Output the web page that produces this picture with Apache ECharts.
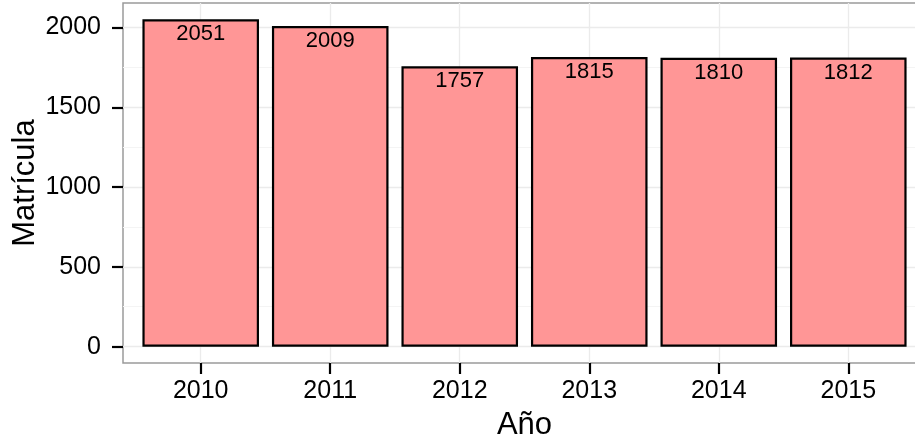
<!DOCTYPE html>
<html>
<head>
<meta charset="utf-8">
<script src="https://cdn.jsdelivr.net/npm/echarts@6/dist/echarts.min.js"></script>
<style>
html,body{margin:0;padding:0;background:#fff;}
#c{width:915px;height:443px;}
</style>
</head>
<body>
<div id="c"></div>
<script>
const years = [2010, 2011, 2012, 2013, 2014, 2015];
const matricula = [2051, 2009, 1757, 1815, 1810, 1812];
const yTicks = [0, 500, 1000, 1500, 2000];
const yMinor = [250, 750, 1250, 1750];

const FONT = "'Liberation Sans', Arial, sans-serif";
const chart = echarts.init(document.getElementById('c'), null, {renderer: 'canvas'});

const gridLines = []
  .concat(yMinor.map(v => ({yAxis: v, lineStyle: {color: '#F4F4F4', width: 1, type: 'solid'}})))
  .concat(yTicks.map(v => ({yAxis: v, lineStyle: {color: '#EBEBEB', width: 1.3, type: 'solid'}})))
  .concat(years.map(v => ({xAxis: v, lineStyle: {color: '#EBEBEB', width: 1.3, type: 'solid'}})));

chart.setOption({
  animation: false,
  backgroundColor: '#ffffff',
  grid: {
    left: 123, top: 3, right: -11, bottom: 80,
    show: true, borderColor: '#9a9a9a', borderWidth: 1.5,
    backgroundColor: 'transparent',
    outerBoundsMode: 'none'
  },
  xAxis: {
    type: 'value',
    min: 2009.4, max: 2015.6,
    name: 'Año', nameLocation: 'middle', nameGap: 47, nameMoveOverlap: false,
    nameTextStyle: {fontFamily: FONT, fontSize: 31, color: '#000'},
    axisLine: {show: false, onZero: false, lineStyle: {color: '#000'}},
    axisTick: {show: true, inside: false, length: 11, customValues: years, lineStyle: {color: '#000', width: 2.2, opacity: 1}},
    axisLabel: {customValues: years, fontFamily: FONT, fontSize: 25, color: '#000', margin: 16,
      formatter: v => String(v)},
    splitLine: {show: false}
  },
  yAxis: {
    type: 'value',
    min: -102.55, max: 2153.55,
    name: 'Matrícula', nameLocation: 'middle', nameGap: 82, nameMoveOverlap: false,
    nameTextStyle: {fontFamily: FONT, fontSize: 31, color: '#000'},
    axisLine: {show: false, onZero: false, lineStyle: {color: '#000'}},
    axisTick: {show: true, inside: false, length: 11, customValues: yTicks, lineStyle: {color: '#000', width: 2.2, opacity: 1}},
    axisLabel: {customValues: yTicks, fontFamily: FONT, fontSize: 25, color: '#000', margin: 22,
      formatter: v => String(v)},
    splitLine: {show: false}
  },
  series: [{
    type: 'bar',
    z: 3,
    data: years.map((y, i) => [y, matricula[i]]),
    barWidth: '90%',
    itemStyle: {color: '#FF9696', borderColor: '#000', borderWidth: 2.2},
    label: {show: true, position: 'insideTop', distance: 4, fontFamily: FONT, fontSize: 22, color: '#000'},
    markLine: {
      silent: true, z: 1, symbol: 'none', label: {show: false},
      emphasis: {disabled: true},
      data: gridLines
    }
  }]
});
</script>
</body>
</html>
